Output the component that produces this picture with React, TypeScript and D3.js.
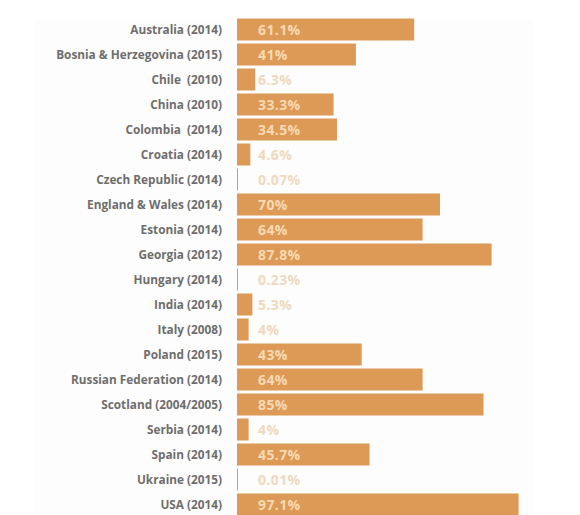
import * as d3 from 'd3';

const countries = [
  'Australia (2014)',
  'Bosnia & Herzegovina (2015)',
  'Chile  (2010)',
  'China (2010)',
  'Colombia  (2014)',
  'Croatia (2014)',
  'Czech Republic (2014)',
  'England & Wales (2014)',
  'Estonia (2014)',
  'Georgia (2012)',
  'Hungary (2014)',
  'India (2014)',
  'Italy (2008)',
  'Poland (2015)',
  'Russian Federation (2014)',
  'Scotland (2004/2005)',
  'Serbia (2014)',
  'Spain (2014)',
  'Ukraine (2015)',
  'USA (2014)',
];

const values = [61.1, 41, 6.3, 33.3, 34.5, 4.6, 0.07, 70, 64, 87.8, 0.23, 5.3, 4, 43, 64, 85, 4, 45.7, 0.01, 97.1];

const valueLabels = ['61.1%', '41%', '6.3%', '33.3%', '34.5%', '4.6%', '0.07%', '70%', '64%', '87.8%', '0.23%', '5.3%', '4%', '43%', '64%', '85%', '4%', '45.7%', '0.01%', '97.1%'];

const W = 580;
const H = 515;
const left = 237;
const top = 17;
const rowH = 25;

export default function App() {
  const x = d3.scaleLinear().domain([0, 100]).range([left, left + 290]);
  const y = d3
    .scaleBand<string>()
    .domain(countries)
    .range([top, top + rowH * countries.length])
    .paddingInner(0.12)
    .paddingOuter(0.06);

  const font = '"Open Sans", Lato, sans-serif';

  return (
    <svg
      width={W}
      height={H}
      style={{ position: 'absolute', left: 0, top: 0, background: '#fff' }}
    >
      <rect x={35} y={20} width={498} height={495} fill="#fdfdfd" />
      {countries.map((c, i) => {
        const yy = y(c) ?? 0;
        const bh = y.bandwidth();
        const w = Math.max(x(values[i]) - x(0), 1);
        const inside = x(values[i]) - x(0) > 60;
        return (
          <g key={c}>
            <text
              x={222}
              y={yy + bh / 2}
              dy="0.35em"
              textAnchor="end"
              fontFamily={font}
              fontWeight={700}
              fontSize={11.8}
              fill="#6e6e6e"
              style={{ whiteSpace: 'pre' }}
            >
              {c}
            </text>
            <rect x={x(0)} y={yy} width={w} height={bh} fill="#dd9a57" />
            <text
              x={258}
              y={yy + bh / 2}
              dy="0.36em"
              fontFamily={font}
              fontWeight={700}
              fontSize={14}
              letterSpacing={0.4}
              fill={inside ? '#f6d9b2' : '#efd9be'}
            >
              {valueLabels[i]}
            </text>
          </g>
        );
      })}
    </svg>
  );
}
